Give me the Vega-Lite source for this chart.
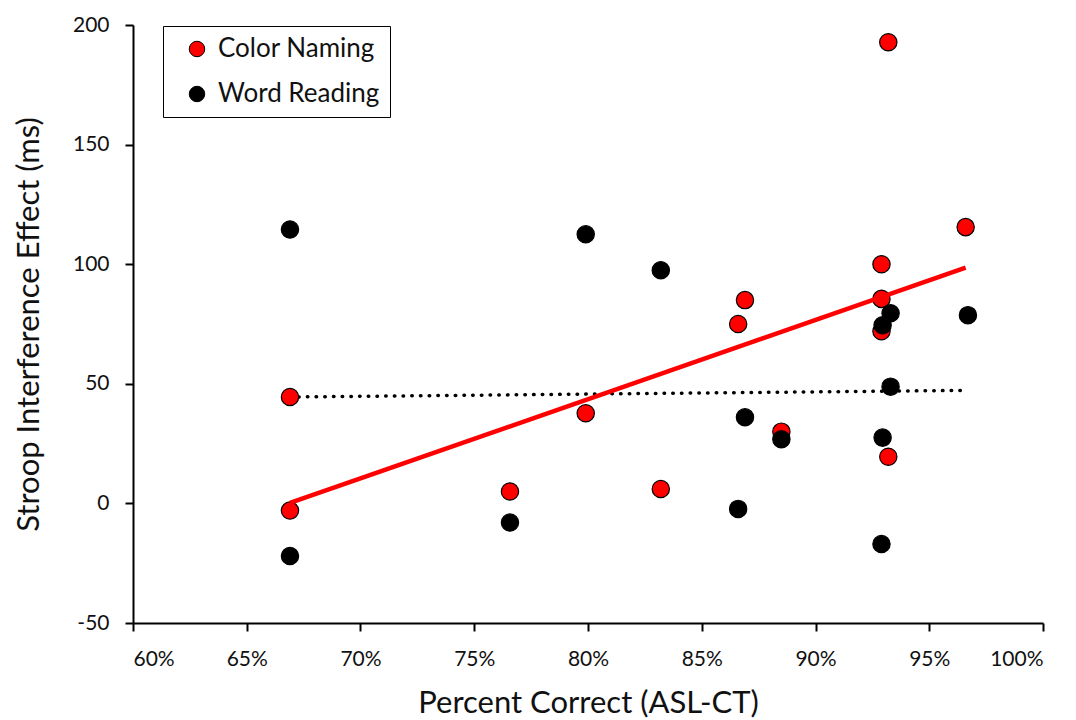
{
  "$schema": "https://vega.github.io/schema/vega-lite/v6.json",
  "autosize": "none",
  "width": 910,
  "height": 598,
  "padding": {"left": 133, "top": 25, "right": 33, "bottom": 97},
  "background": "white",
  "config": {
    "font": "Lato",
    "view": {"stroke": null},
    "axis": {"grid": false, "domainColor": "black", "tickColor": "black", "domainWidth": 2, "tickWidth": 2, "tickSize": 8, "labelColor": "#111", "titleColor": "#111", "labelFont": "Lato", "titleFont": "Lato", "titleFontWeight": "normal"}
  },
  "data": {
    "values": [
      {"pc": 0.669, "effect": -3, "task": "Color Naming"},
      {"pc": 0.669, "effect": 44.5, "task": "Color Naming"},
      {"pc": 0.7657, "effect": 5, "task": "Color Naming"},
      {"pc": 0.799, "effect": 37.7, "task": "Color Naming"},
      {"pc": 0.832, "effect": 6, "task": "Color Naming"},
      {"pc": 0.866, "effect": 75, "task": "Color Naming"},
      {"pc": 0.869, "effect": 85, "task": "Color Naming"},
      {"pc": 0.885, "effect": 30, "task": "Color Naming"},
      {"pc": 0.929, "effect": 100, "task": "Color Naming"},
      {"pc": 0.929, "effect": 85.5, "task": "Color Naming"},
      {"pc": 0.929, "effect": 72, "task": "Color Naming"},
      {"pc": 0.932, "effect": 19.5, "task": "Color Naming"},
      {"pc": 0.932, "effect": 192.8, "task": "Color Naming"},
      {"pc": 0.966, "effect": 115.5, "task": "Color Naming"},
      {"pc": 0.669, "effect": -22, "task": "Word Reading"},
      {"pc": 0.669, "effect": 114.5, "task": "Word Reading"},
      {"pc": 0.7657, "effect": -8, "task": "Word Reading"},
      {"pc": 0.799, "effect": 112.5, "task": "Word Reading"},
      {"pc": 0.832, "effect": 97.5, "task": "Word Reading"},
      {"pc": 0.866, "effect": -2.3, "task": "Word Reading"},
      {"pc": 0.869, "effect": 36, "task": "Word Reading"},
      {"pc": 0.885, "effect": 26.8, "task": "Word Reading"},
      {"pc": 0.9295, "effect": 74.5, "task": "Word Reading"},
      {"pc": 0.933, "effect": 79.5, "task": "Word Reading"},
      {"pc": 0.9295, "effect": 27.5, "task": "Word Reading"},
      {"pc": 0.929, "effect": -17, "task": "Word Reading"},
      {"pc": 0.933, "effect": 48.8, "task": "Word Reading"},
      {"pc": 0.967, "effect": 78.7, "task": "Word Reading"}
    ]
  },
  "layer": [
    {
      "transform": [{"filter": "datum.task === 'Word Reading'"}, {"regression": "effect", "on": "pc"}],
      "mark": {"type": "line", "color": "black", "strokeWidth": 3.5, "strokeDash": [0.5, 8.2], "strokeCap": "round"},
      "encoding": {
        "x": {"field": "pc", "type": "quantitative"},
        "y": {"field": "effect", "type": "quantitative"}
      }
    },
    {
      "mark": {"type": "point", "filled": true, "size": 300, "stroke": "black", "strokeWidth": 1.2, "opacity": 1},
      "encoding": {
        "x": {"field": "pc", "type": "quantitative", "scale": {"domain": [0.6, 1.0], "nice": false},
          "axis": {"values": [0.6, 0.65, 0.7, 0.75, 0.8, 0.85, 0.9, 0.95, 1.0], "format": ".0%", "title": "Percent Correct (ASL-CT)", "labelFontSize": 21, "titleFontSize": 31, "labelPadding": 17, "titlePadding": 19}},
        "y": {"field": "effect", "type": "quantitative", "scale": {"domain": [-50, 200], "nice": false},
          "axis": {"values": [-50, 0, 50, 100, 150, 200], "labelExpr": "toString(datum.value)", "title": "Stroop Interference Effect (ms)", "labelFontSize": 21, "titleFontSize": 31, "labelPadding": 16, "titlePadding": 27}},
        "color": {"field": "task", "type": "nominal", "scale": {"domain": ["Color Naming", "Word Reading"], "range": ["#ff0000", "#000000"]},
          "legend": {"title": null, "orient": "none", "legendX": 30, "legendY": 1, "labelFontSize": 26, "labelFont": "Lato", "labelColor": "#111", "labelLimit": 400, "labelExpr": "datum.label + '\u00a0\u00a0\u00a0'", "symbolSize": 240, "symbolStrokeColor": "black", "symbolStrokeWidth": 1, "strokeColor": "black", "padding": 10, "rowPadding": 19, "symbolOffset": 11, "symbolType": "circle", "labelOffset": 8, "fillColor": "white"}}
      }
    },
    {
      "transform": [{"filter": "datum.task === 'Color Naming'"}, {"regression": "effect", "on": "pc"}],
      "mark": {"type": "line", "color": "#ff0000", "strokeWidth": 4.5},
      "encoding": {
        "x": {"field": "pc", "type": "quantitative"},
        "y": {"field": "effect", "type": "quantitative"}
      }
    }
  ]
}
